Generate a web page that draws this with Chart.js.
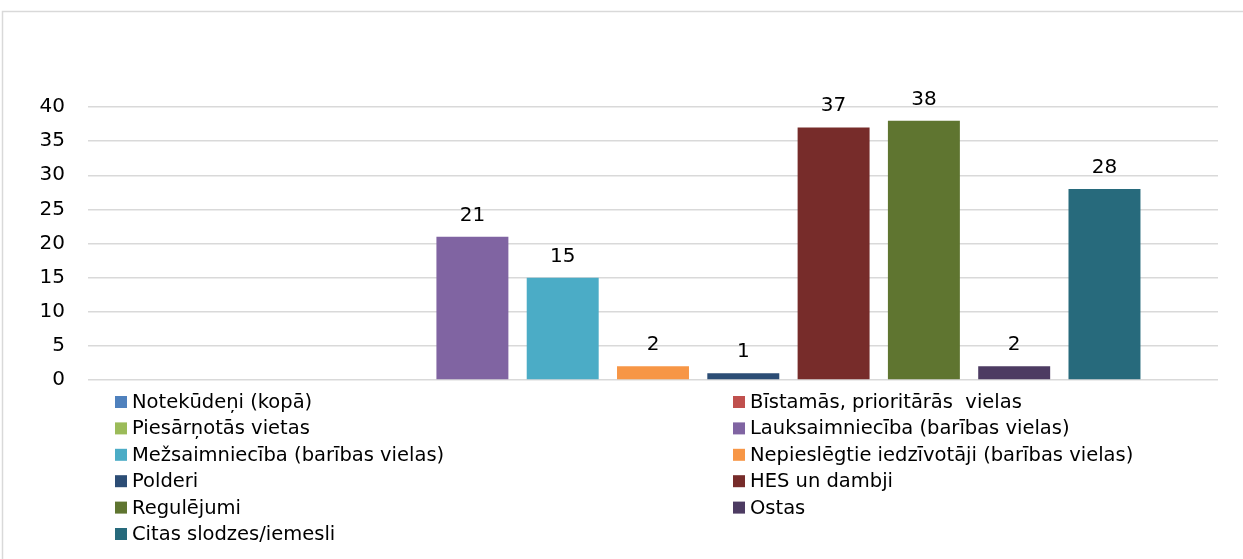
<!DOCTYPE html>
<html>
<head>
<meta charset="utf-8">
<script src="https://cdn.jsdelivr.net/npm/chart.js@4"></script>
<style>
    html, body { margin: 0; padding: 0; background: #fff; }
    #wrap { position: relative; width: 1243px; height: 559px; }
</style>
</head>
<body>
<div id="wrap"><canvas id="slodzesChart" width="1243" height="559"></canvas></div>
<script>
// ========================================
// Slodžu/iemeslu sadalījums - stabiņu diagramma
// ========================================

const seriesNames = [
    'Notekūdeņi (kopā)',
    'Bīstamās, prioritārās  vielas',
    'Piesārņotās vietas',
    'Lauksaimniecība (barības vielas)',
    'Mežsaimniecība (barības vielas)',
    'Nepieslēgtie iedzīvotāji (barības vielas)',
    'Polderi',
    'HES un dambji',
    'Regulējumi',
    'Ostas',
    'Citas slodzes/iemesli'
];
const seriesValues = [0, 0, 0, 21, 15, 2, 1, 37, 38, 2, 28];
const seriesColors = [
    '#4F81BD', '#C0504D', '#9BBB59', '#8064A2', '#4BACC6', '#F79646',
    '#2C4D75', '#772C2A', '#5F7530', '#4D3B62', '#276A7C'
];
const yTicks = [0, 5, 10, 15, 20, 25, 30, 35, 40];

const FONT = 'Tahoma, "DejaVu Sans", sans-serif';

// Frame line round the chart (top + left visible)
const framePlugin = {
    id: 'frame',
    beforeDraw(chart) {
        const ctx = chart.ctx;
        ctx.save();
        ctx.strokeStyle = '#D9D9D9';
        ctx.lineWidth = 1.5;
        ctx.strokeRect(2.5, 11.5, chart.width + 10, chart.height + 10);
        ctx.restore();
    }
};

// Value labels above bars
const valueLabels = {
    id: 'valueLabels',
    afterDatasetsDraw(chart) {
        const ctx = chart.ctx;
        ctx.save();
        ctx.font = '20px ' + FONT;
        ctx.fillStyle = '#000';
        ctx.textAlign = 'center';
        ctx.textBaseline = 'alphabetic';
        chart.data.datasets.forEach((ds, i) => {
            const v = ds.data[0];
            if (!v) return;
            const bar = chart.getDatasetMeta(i).data[0];
            ctx.fillText(String(v), bar.x, bar.y - 16);
        });
        ctx.restore();
    }
};

// Two-column legend under the plot
const twoColLegend = {
    id: 'twoColLegend',
    afterDraw(chart) {
        const ctx = chart.ctx;
        const colX = [115, 733];
        const rowY = 402;
        const rowH = 26.4;
        ctx.save();
        ctx.font = '19.5px ' + FONT;
        ctx.fillStyle = '#000';
        ctx.textBaseline = 'middle';
        chart.data.datasets.forEach((ds, i) => {
            const x = colX[i % 2];
            const y = rowY + Math.floor(i / 2) * rowH;
            ctx.fillStyle = ds.backgroundColor;
            ctx.fillRect(x, y - 6, 12, 12);
            ctx.fillStyle = '#000';
            ctx.fillText(ds.label, x + 17, y + 1);
        });
        ctx.restore();
    }
};

function initChart() {
    const ctx = document.getElementById('slodzesChart');
    new Chart(ctx, {
        type: 'bar',
        data: {
            labels: [''],
            datasets: seriesNames.map((name, i) => ({
                label: name,
                data: [seriesValues[i]],
                backgroundColor: seriesColors[i],
                borderWidth: 0,
                categoryPercentage: 0.879,
                barPercentage: 0.797
            }))
        },
        options: {
            responsive: false,
            animation: false,
            layout: {
                padding: { left: 0, right: 25, top: 107, bottom: 179 }
            },
            plugins: {
                legend: { display: false },
                tooltip: { enabled: false }
            },
            scales: {
                x: {
                    display: false
                },
                y: {
                    min: 0,
                    max: 40,
                    afterBuildTicks(scale) {
                        scale.ticks = yTicks.map(v => ({ value: v }));
                    },
                    afterFit(scale) {
                        scale.width = 88;
                    },
                    border: { display: false },
                    grid: {
                        color: '#D9D9D9',
                        lineWidth: 1.5,
                        drawTicks: false
                    },
                    ticks: {
                        padding: 23,
                        color: '#000',
                        font: { family: FONT, size: 20 }
                    }
                }
            }
        },
        plugins: [framePlugin, valueLabels, twoColLegend]
    });
}

initChart();
</script>
</body>
</html>
